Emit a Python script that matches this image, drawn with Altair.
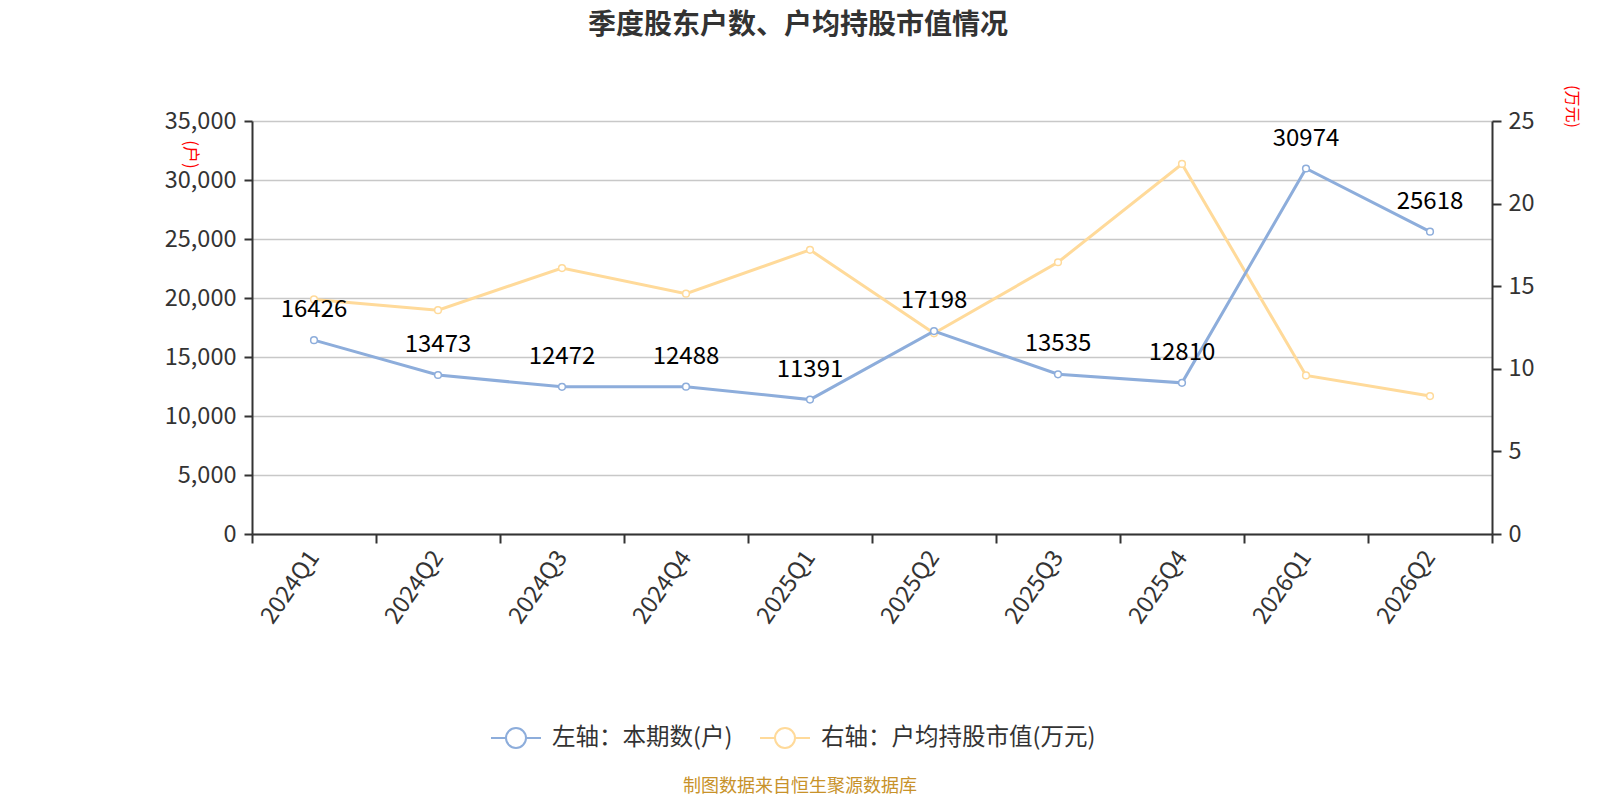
import altair as alt
import pandas as pd

quarters = ["2024Q1", "2024Q2", "2024Q3", "2024Q4", "2025Q1", "2025Q2",
            "2025Q3", "2025Q4", "2026Q1", "2026Q2"]
holders = [16426, 13473, 12472, 12488, 11391, 17198, 13535, 12810, 30974, 25618]
avg_value = [14.2, 13.55, 16.1, 14.55, 17.2, 12.15, 16.45, 22.4, 9.6, 8.35]

s_left = "左轴：本期数(户)"
s_right = "右轴：户均持股市值(万元)"
blue = "#8DADDB"
yellow = "#FFDA9A"

df_left = pd.DataFrame({"q": quarters, "v": holders, "s": s_left})
df_right = pd.DataFrame({"q": quarters, "v": avg_value, "s": s_right})

FONT = "Noto Sans CJK SC"
TXT = "#333333"

color = alt.Color(
    "s:N",
    scale=alt.Scale(domain=[s_left, s_right], range=[blue, yellow]),
    legend=alt.Legend(
        title=None, orient="none", direction="horizontal",
        legendX=238, legendY=591,
        symbolType="M-1,0L-0.4,0M0.4,0L1,0M-0.4,0A0.4,0.4,0,1,0,0.4,0A0.4,0.4,0,1,0,-0.4,0Z",
        symbolSize=2500, symbolFillColor="white", symbolStrokeWidth=2,
        labelFontSize=23.5, labelFont=FONT, labelColor=TXT,
        labelOffset=10, columnPadding=23, labelLimit=400,
    ),
)

x = alt.X(
    "q:N", sort=quarters, title=None,
    scale=alt.Scale(paddingInner=0, paddingOuter=0),
    axis=alt.Axis(labelAngle=-55, labelAlign="right", labelBaseline="middle",
                  labelFontSize=23.5, labelFont=FONT, labelColor=TXT,
                  labelPadding=10,
                  tickBand="extent", tickSize=9, tickColor=TXT,
                  domainColor=TXT, domainWidth=2, tickWidth=2, grid=False),
)

y_left = alt.Y(
    "v:Q",
    scale=alt.Scale(domain=[0, 35000], nice=False),
    axis=alt.Axis(values=list(range(0, 35001, 5000)), format=",.0f",
                  title="(户)", titleAngle=90, titleColor="#FF0000", titleFontSize=17,
                  titleFontWeight="normal", titleX=-63, titleY=33,
                  titleAlign="center", titleBaseline="middle", titleFont=FONT,
                  labelFontSize=23.5, labelFont=FONT, labelColor=TXT,
                  labelPadding=8, tickSize=8, tickColor=TXT, tickWidth=2,
                  domainColor=TXT, domainWidth=2,
                  grid=True, gridColor="#C8C8C8", gridWidth=1.5),
)

y_right = alt.Y(
    "v:Q",
    scale=alt.Scale(domain=[0, 25], nice=False),
    axis=alt.Axis(orient="right", values=[0, 5, 10, 15, 20, 25], format="d",
                  title="(万元)", titleAngle=90, titleColor="#FF0000", titleFontSize=16,
                  titleFontWeight="normal", titleX=79, titleY=-15,
                  titleAlign="center", titleBaseline="middle", titleFont=FONT,
                  labelFontSize=23.5, labelFont=FONT, labelColor=TXT,
                  labelPadding=7, tickSize=9, tickColor=TXT, tickWidth=2,
                  domainColor=TXT, domainWidth=2, grid=False),
)

stroke = alt.Stroke("s:N", scale=alt.Scale(domain=[s_left, s_right], range=[blue, yellow]), legend=None)

right_line = alt.Chart(df_right).mark_line(strokeWidth=3).encode(x=x, y=y_right, color=color)
right_pts = alt.Chart(df_right).mark_point(filled=True, fill="white", size=45, strokeWidth=1.5, opacity=1).encode(
    x=x, y=y_right, stroke=stroke)
right = alt.layer(right_line, right_pts)

left_line = alt.Chart(df_left).mark_line(strokeWidth=3).encode(x=x, y=y_left, color=color)
left_pts = alt.Chart(df_left).mark_point(filled=True, fill="white", size=45, strokeWidth=1.5, opacity=1).encode(
    x=x, y=y_left, stroke=stroke)
left_labels = alt.Chart(df_left).mark_text(dy=-30, fontSize=24, font=FONT, color="black",
                                           baseline="middle").encode(
    x=x, y=y_left, text=alt.Text("v:Q", format="d"))
left = alt.layer(left_line, left_pts, left_labels)

title_df = pd.DataFrame({"t": ["季度股东户数、户均持股市值情况"]})
title_txt = alt.Chart(title_df).mark_text(fontSize=28, fontWeight="bold", font=FONT, color=TXT,
                                          baseline="middle", align="center").encode(
    x=alt.value(546), y=alt.value(-95), text="t:N")
foot_df = pd.DataFrame({"t": ["制图数据来自恒生聚源数据库"]})
foot_txt = alt.Chart(foot_df).mark_text(fontSize=18, font=FONT, color="#C8922A",
                                        baseline="middle", align="center").encode(
    x=alt.value(548), y=alt.value(666), text="t:N")

chart = alt.layer(right, left, title_txt, foot_txt).resolve_scale(y="independent").properties(
    width=1240, height=413,
    padding={"left": 244, "top": 113, "right": 100, "bottom": 265},
    autosize=alt.AutoSizeParams(type="none"),
    background="white",
).configure_view(stroke=None)

chart.save("out.html", embed_options={"renderer": "svg", "actions": False})
